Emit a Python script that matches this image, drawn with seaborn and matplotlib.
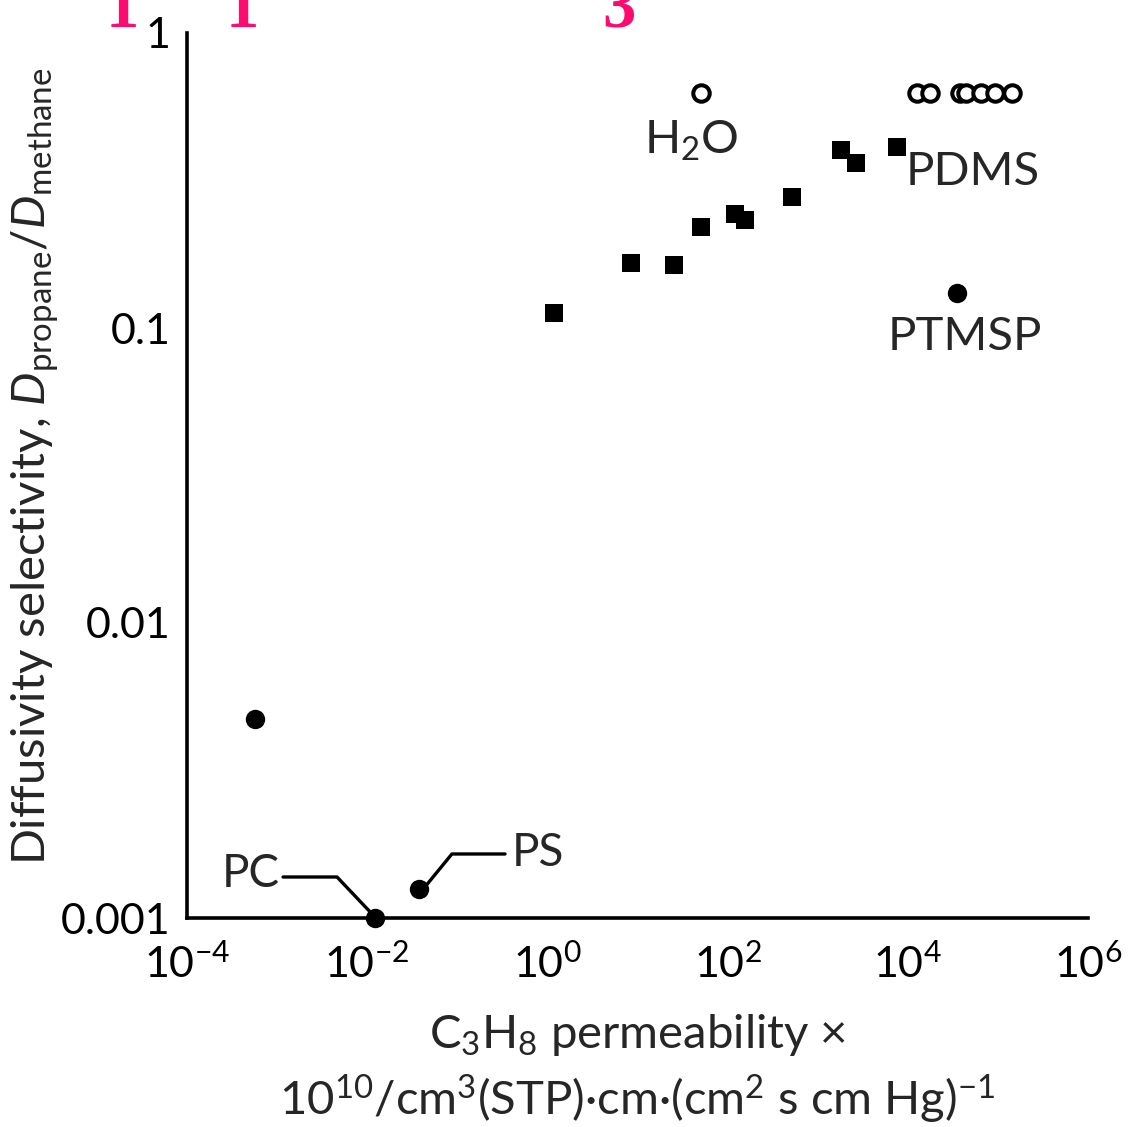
import numpy as np
import pandas as pd
import matplotlib
matplotlib.use("Agg")
import matplotlib.pyplot as plt
import seaborn as sns

# ---------------- data ----------------
square_perm = [1.18, 8.5, 25.4, 50.7, 121, 156, 519, 1815, 2660, 7590]
square_sel = [0.112, 0.166, 0.164, 0.220, 0.243, 0.232, 0.278, 0.400, 0.362, 0.411]

filled_perm = [5.7e-4, 0.0122, 0.0376, 35150]
filled_sel = [0.00473, 0.00100, 0.00125, 0.1316]

open_perm = [50.7, 12650, 17620, 37950, 44260, 64900, 92900, 143300]
open_sel = [0.627, 0.627, 0.627, 0.627, 0.627, 0.627, 0.627, 0.627]

xtick_values = [1e-4, 1e-3, 1e-2, 1e-1, 1e0, 1e1, 1e2, 1e3, 1e4, 1e5, 1e6]
xtick_labels = ["$10^{-4}$", "", "$10^{-2}$", "", "$10^{0}$", "", "$10^{2}$", "",
                "$10^{4}$", "", "$10^{6}$"]
ytick_values = [0.001, 0.01, 0.1, 1]
ytick_labels = ["0.001", "0.01", "0.1", "1"]

# ---------------- style ----------------
sns.set_style("white")
FONT = ["Lato", "DejaVu Sans"]
plt.rcParams["font.family"] = FONT
plt.rcParams["mathtext.fontset"] = "custom"
plt.rcParams["mathtext.rm"] = "Lato"
plt.rcParams["mathtext.it"] = "Lato:italic"
plt.rcParams["mathtext.default"] = "rm"

fig = plt.figure(figsize=(11.28, 11.27), dpi=100)
ax = fig.add_axes([187 / 1128, 1 - 918 / 1127, 901 / 1128, 885 / 1127])

sns.scatterplot(x=square_perm, y=square_sel, marker="s", s=185, color="black",
                edgecolor="black", linewidth=0, ax=ax, clip_on=False)
sns.scatterplot(x=filled_perm, y=filled_sel, marker="o", s=195, color="black",
                edgecolor="black", linewidth=0, ax=ax, clip_on=False)
sns.scatterplot(x=open_perm, y=open_sel, marker="o", s=140, color="white",
                edgecolor="black", linewidth=2.9, ax=ax, clip_on=False)
ax.collections[-1].set_facecolor("white")

ax.set_xscale("log")
ax.set_yscale("log")
ax.set_xlim(1e-4, 1e6)
ax.set_ylim(1e-3, 1)

for side in ["top", "right"]:
    ax.spines[side].set_visible(False)
for side in ["left", "bottom"]:
    ax.spines[side].set_linewidth(2.6)
    ax.spines[side].set_color("black")

ax.set_xticks(xtick_values)
ax.set_xticklabels(xtick_labels)
ax.set_yticks(ytick_values)
ax.set_yticklabels(ytick_labels)
ax.minorticks_off()
ax.tick_params(axis="both", which="major", direction="in", length=11, width=2.2,
               labelsize=31, colors="black")
ax.tick_params(axis="x", pad=18)
ax.tick_params(axis="y", pad=12)

ax.set_ylabel(r"Diffusivity selectivity, $\mathit{D}_{\mathrm{propane}}/\mathit{D}_{\mathrm{methane}}$",
              fontsize=34)
ax.yaxis.set_label_coords(-0.14, 0.51)
ax.set_xlabel("C$_3$H$_8$ permeability ×\n10$^{10}$/cm$^3$(STP)·cm·(cm$^2$ s cm Hg)$^{-1}$",
              fontsize=34, linespacing=1.35)
ax.xaxis.set_label_coords(0.5, -0.106)

# annotations
ax.text(40, 0.43, "H$_2$O", fontsize=34, ha="center", va="center")
ax.text(9500, 0.338, "PDMS", fontsize=34, ha="left", va="center")
ax.text(43150, 0.0933, "PTMSP", fontsize=34, ha="center", va="center")
ax.text(10 ** -2.97, 10 ** -2.85, "PC", fontsize=33, ha="right", va="center")
ax.text(10 ** -0.40, 10 ** -2.78, "PS", fontsize=33, ha="left", va="center")

ax.plot([10 ** -2.934, 10 ** -2.335, 10 ** -1.95], [10 ** -2.861, 10 ** -2.861, 10 ** -2.985],
        color="black", lw=2.4, clip_on=False)
ax.plot([10 ** -1.36, 10 ** -1.06, 10 ** -0.47], [10 ** -2.895, 10 ** -2.783, 10 ** -2.783],
        color="black", lw=2.4, clip_on=False)

# cropped magenta heading at the top edge (only the feet of the glyphs are visible)
for xp, ch in [(0.094, "1"), (0.200, "1"), (0.534, "3")]:
    fig.text(xp, 1 - 27 / 1127, ch, fontsize=48, family="Liberation Serif", weight="bold",
             color="#ff0a6e", ha="left", va="baseline")

fig.savefig("out.png", dpi=100, facecolor="white")
